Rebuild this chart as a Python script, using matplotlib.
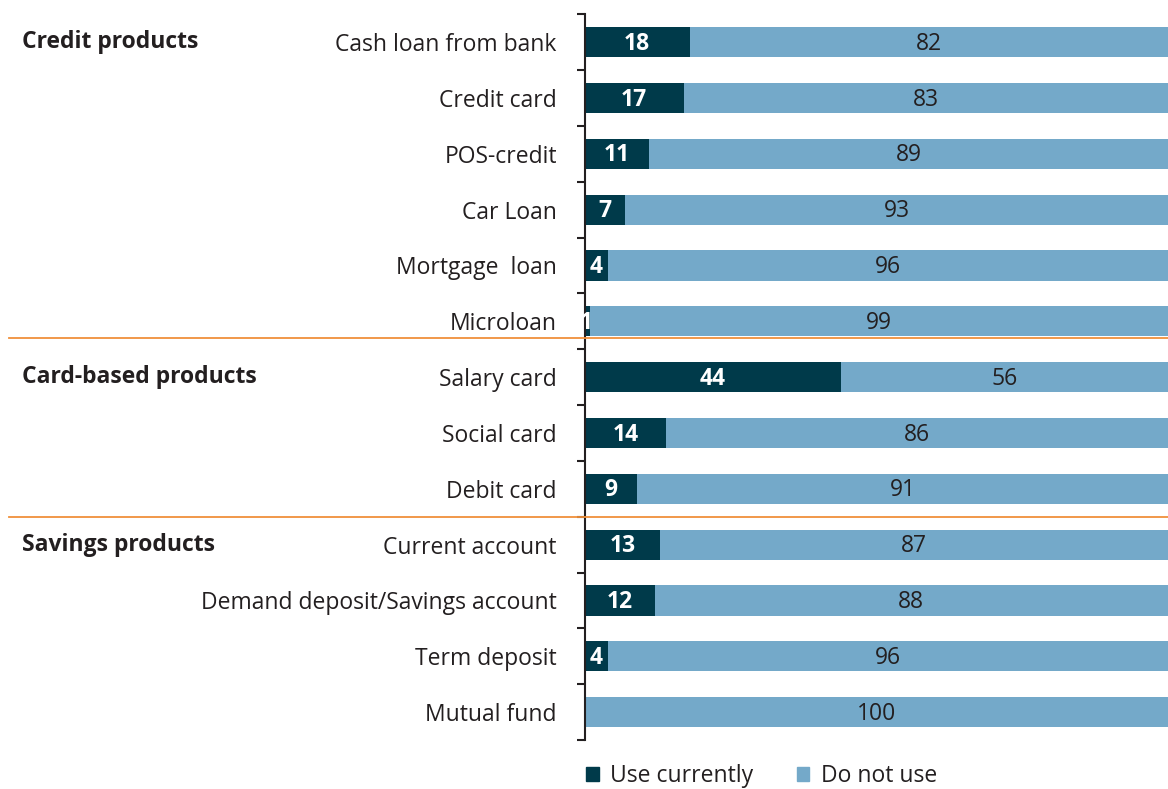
import matplotlib
matplotlib.use("Agg")
import matplotlib.pyplot as plt
from matplotlib.patches import Patch
import numpy as np

categories = ["Cash loan from bank", "Credit card", "POS-credit", "Car Loan",
              "Mortgage  loan", "Microloan", "Salary card", "Social card",
              "Debit card", "Current account", "Demand deposit/Savings account",
              "Term deposit", "Mutual fund"]
use_currently = [18, 17, 11, 7, 4, 1, 44, 14, 9, 13, 12, 4, 0]
do_not_use = [82, 83, 89, 93, 96, 99, 56, 86, 91, 87, 88, 96, 100]
groups = ["Credit products", "Card-based products", "Savings products"]
group_rows = [0, 6, 9]

DARK = "#003a4a"
LIGHT = "#74a9c9"
ORANGE = "#f0903a"
TXT = "#231f20"
FS = 16.5

plt.rcParams['font.family'] = ['Open Sans', 'DejaVu Sans']

fig = plt.figure(figsize=(11.68, 7.89), dpi=100)
ax = fig.add_axes([0.5005, 0.062, 0.4995, 0.920])

y = np.arange(len(categories))
ax.barh(y, use_currently, height=0.54, color=DARK)
ax.barh(y, do_not_use, left=use_currently, height=0.54, color=LIGHT)

for i, (u, d) in enumerate(zip(use_currently, do_not_use)):
    if u > 0:
        ax.text(u / 2 if u > 2 else 0.3, i + 0.03, str(u), ha='center', va='center',
                color='white', fontsize=FS, fontweight='bold')
    ax.text(u + d / 2, i + 0.03, str(d), ha='center', va='center', color=TXT, fontsize=FS)

ax.set_xlim(0, 100)
ax.set_ylim(len(categories) - 0.5, -0.5)
ax.set_yticks(y)
ax.set_yticklabels(categories, fontsize=FS, color=TXT)
ax.set_yticks(np.arange(-0.5, len(categories), 1), minor=True)
ax.tick_params(axis='y', which='major', length=0, pad=20)
ax.tick_params(axis='y', which='minor', length=6, width=1.5, color='#231f20')
ax.set_xticks([])
for s in ['top', 'right', 'bottom']:
    ax.spines[s].set_visible(False)
ax.spines['left'].set_linewidth(1.5)
ax.spines['left'].set_color('#231f20')

# group labels
for g, r in zip(groups, group_rows):
    fig.text(0.019, ax.transData.transform((0, r))[1] / fig.bbox.height, g,
             ha='left', va='center', fontsize=FS, fontweight='bold', color=TXT)

# orange separators
for yy in [5.3, 8.5]:
    yfig = ax.transData.transform((0, yy))[1] / fig.bbox.height
    fig.add_artist(plt.Line2D([0.008, 1.0], [yfig, yfig], color=ORANGE, lw=1.3,
                              transform=fig.transFigure))

handles = [Patch(color=DARK, label="Use currently"), Patch(color=LIGHT, label="Do not use")]
fig.legend(handles=handles, loc='center left', bbox_to_anchor=(0.484, 0.016), ncol=2,
           frameon=False, fontsize=FS, handlelength=0.55, handleheight=0.55,
           columnspacing=1.9, handletextpad=0.5, labelcolor=TXT)

fig.savefig("out.png", dpi=100)
